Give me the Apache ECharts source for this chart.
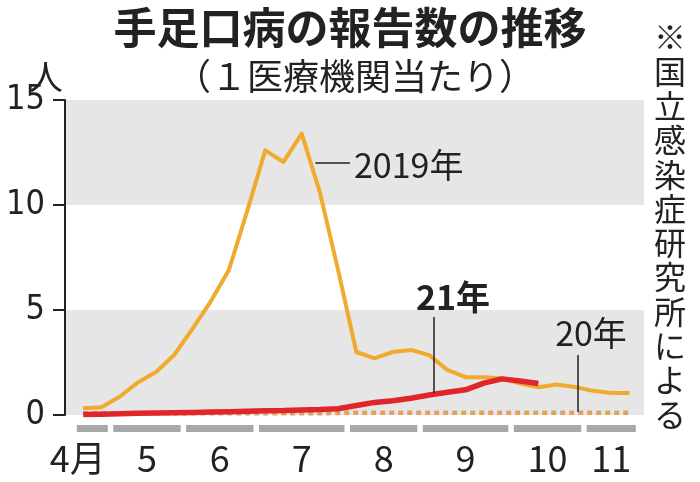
<!DOCTYPE html>
<html><head><meta charset="utf-8">
<script src="https://cdn.jsdelivr.net/npm/echarts@6/dist/echarts.min.js"></script>
<style>html,body{margin:0;padding:0;background:#fff}#c{width:700px;height:482px}</style>
</head><body><div id="c"></div>
<script>
// Weekly index 0 = first week of April
const y2019 = [0.32,0.37,0.87,1.55,2.05,2.86,4.1,5.4,6.9,9.7,12.6,12.05,13.4,10.6,6.9,3.0,2.7,3.0,3.1,2.85,2.15,1.8,1.8,1.75,1.5,1.32,1.45,1.33,1.15,1.05,1.05];
const y2021 = [0.02,0.04,0.06,0.08,0.1,0.11,0.12,0.14,0.16,0.18,0.2,0.21,0.24,0.26,0.3,0.45,0.6,0.68,0.8,0.95,1.08,1.2,1.52,1.72,1.62,1.5];
const y2020 = [0.08,0.08,0.08,0.08,0.08,0.08,0.08,0.08,0.08,0.08,0.08,0.08,0.08,0.08,0.1,0.11,0.11,0.11,0.11,0.11,0.11,0.11,0.11,0.11,0.11,0.11,0.11,0.11,0.11,0.11,0.11];
const monthLabels = ['4月','5','6','7','8','9','10','11'];
const monthFirstWeek = [0,2,6,10,15,19,24,28];
const monthLastWeek = [1,5,9,14,18,23,27,30];
const yTicks = [0,5,10,15];

const CJK = "'Noto Sans CJK JP','Noto Sans',sans-serif";
const NARROW = "'Liberation Sans Narrow','DejaVu Sans Condensed','Noto Sans CJK JP',sans-serif";

const idx = a => a.map((v,i)=>[i,v]);
const yMin = yTicks[0], yMax = yTicks[yTicks.length-1];
const chart = echarts.init(document.getElementById('c'));
chart.setOption({
  animation:false,
  backgroundColor:'#fff',
  grid:{left:65,right:56,top:100,bottom:67},
  xAxis:{type:'value',min:-1,max:30.8,show:false,splitLine:{show:false}},
  yAxis:[
    {type:'value',min:yMin,max:yMax,interval:5,z:0,
      axisLine:{show:false},axisTick:{show:false},axisLabel:{show:false},
      splitLine:{show:false},
      splitArea:{show:true,areaStyle:{color:['#e6e6e7','#ffffff']}}
    },
    {type:'value',min:yMin,max:yMax,interval:5,position:'left',z:10,
      axisLine:{show:true,onZero:false,lineStyle:{color:'#222',width:2}},
      axisTick:{show:true,length:12,lineStyle:{color:'#222',width:2}},
      axisLabel:{fontSize:34,color:'#222',fontFamily:NARROW,margin:20},
      splitLine:{show:false},splitArea:{show:false}
    }
  ],
  series:[
    {type:'custom',clip:false,silent:true,z:1,
      data:monthFirstWeek.map((s,i)=>[s,monthLastWeek[i]]),
      renderItem:function(params,api){
        const i=params.dataIndex;
        const p0=api.coord([api.value(0)-0.35,0]);
        const p1=api.coord([api.value(1)+0.35,0]);
        const first=i===0;
        return {type:'group',children:[
          {type:'rect',shape:{x:p0[0],y:p0[1]+10,width:p1[0]-p0[0],height:7},style:{fill:'#a8a8a8'}},
          {type:'text',style:{text:monthLabels[i],x:first?p1[0]-2:(p0[0]+p1[0])/2,y:p0[1]+43,
            align:first?'right':'center',verticalAlign:'middle',fontSize:36,fill:'#222',fontFamily:CJK}}
        ]};
      }
    },
    {name:'20年',type:'line',data:idx(y2020),symbol:'none',z:2,
      lineStyle:{color:'#e3a160',width:4.5,type:[5,4],cap:'butt'}},
    {name:'2019年',type:'line',data:idx(y2019),symbol:'none',z:3,
      lineStyle:{color:'#f0aa2e',width:4,join:'round'},
      markLine:{silent:true,symbol:'none',label:{show:false},lineStyle:{color:'#222',width:1.5,type:'solid'},
        data:[
          [{coord:[12.75,12]},{coord:[14.65,12]}],
          [{coord:[19.23,1.05]},{coord:[19.23,4.67]}],
          [{coord:[27.14,0.14]},{coord:[27.14,2.86]}]
        ]}
    },
    {name:'21年',type:'line',data:idx(y2021),symbol:'none',z:4,
      lineStyle:{color:'#e0262a',width:5.5,join:'round'}}
  ],
  graphic:[
    {type:'text',z:100,left:'center',top:6,style:{text:'手足口病の報告数の推移',fontSize:43,fontWeight:'bold',fill:'#222',fontFamily:CJK}},
    {type:'text',z:100,x:355,y:76,style:{text:'（１医療機関当たり）',fontSize:36,fill:'#222',fontFamily:CJK,align:'center',verticalAlign:'middle'}},
    {type:'text',z:100,x:46,y:77,style:{text:'人',fontSize:34,fill:'#222',fontFamily:CJK,align:'center',verticalAlign:'middle'}},
    {type:'text',z:100,x:354,y:165,style:{text:'2019年',fontSize:34,fill:'#222',fontFamily:CJK,align:'left',verticalAlign:'middle'}},
    {type:'text',z:100,x:453,y:297,style:{text:'21年',fontSize:34,fontWeight:'bold',fill:'#222',fontFamily:CJK,align:'center',verticalAlign:'middle'}},
    {type:'text',z:100,x:591,y:333,style:{text:'20年',fontSize:34,fill:'#222',fontFamily:CJK,align:'center',verticalAlign:'middle'}},
    {type:'text',z:100,x:670,y:20,style:{text:'※\n国\n立\n感\n染\n症\n研\n究\n所\nに\nよ\nる',fontSize:32,lineHeight:34.3,fill:'#222',fontFamily:CJK,align:'center',verticalAlign:'top'}}
  ]
});
</script></body></html>
